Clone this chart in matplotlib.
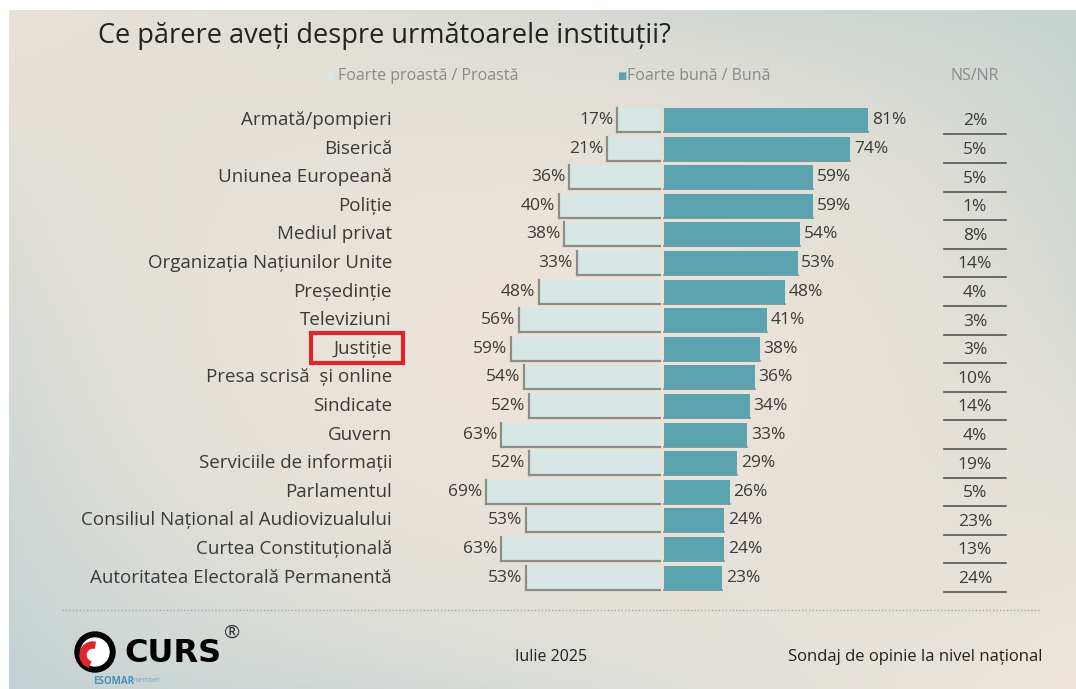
import matplotlib.pyplot as plt
import numpy as np
from matplotlib.patches import Rectangle, Circle, Wedge

# data
institutii = ["Armată/pompieri", "Biserică", "Uniunea Europeană", "Poliție", "Mediul privat",
              "Organizația Națiunilor Unite", "Președinție", "Televiziuni", "Justiție",
              "Presa scrisă  și online", "Sindicate", "Guvern", "Serviciile de informații",
              "Parlamentul", "Consiliul Național al Audiovizualului", "Curtea Constituțională",
              "Autoritatea Electorală Permanentă"]
proasta = [17, 21, 36, 40, 38, 33, 48, 56, 59, 54, 52, 63, 52, 69, 53, 63, 53]
buna = [81, 74, 59, 59, 54, 53, 48, 41, 38, 36, 34, 33, 29, 26, 24, 24, 23]
nsnr = [2, 5, 5, 1, 8, 14, 4, 3, 3, 10, 14, 4, 19, 5, 23, 13, 24]
evidentiat = "Justiție"

W, H = 1076, 689
LIGHT = "#d6e7e5"
DARK = "#5ba3ae"
TXT = "#3a3a3a"
FONT = ["Open Sans", "DejaVu Sans"]
plt.rcParams["font.family"] = FONT

fig = plt.figure(figsize=(W / 100, H / 100), dpi=100)
fig.patch.set_facecolor("white")

# fundal gradient
bg = fig.add_axes([9 / W, 0, 1 - 9 / W, 1 - 10 / H])
tl = np.array([233, 226, 216]) / 255
tr = np.array([198, 210, 207]) / 255
bl = np.array([196, 210, 211]) / 255
br = np.array([238, 230, 220]) / 255
mid = np.array([236, 228, 218]) / 255
u = np.linspace(0, 1, 200)[None, :, None]
v = np.linspace(0, 1, 140)[:, None, None]
img = (1 - u) * (1 - v) * tl + u * (1 - v) * tr + (1 - u) * v * bl + u * v * br
w = (np.sin(np.pi * u) * np.sin(np.pi * v)) ** 0.7
img = img * (1 - w) + mid * w
bg.imshow(np.clip(img, 0, 1), aspect="auto", extent=[0, 1, 1, 0])
bg.axis("off")

# axa principala: 0% la x=662 px, 2.52 px / %
cx, ppu = 662, 2.52
y0, dy = 120, 28.6
ax = fig.add_axes([0, 0, 1, 1])
ax.patch.set_alpha(0)
ax.set_xlim(-cx / ppu, (W - cx) / ppu)
ax.set_ylim((H - y0) / dy, -y0 / dy)
ax.axis("off")

ys = np.arange(len(institutii))
gap = 0.8
hb = 0.84
ax.barh(ys, [-p for p in proasta], left=-gap, height=hb, color=LIGHT, zorder=3)
ax.barh(ys, buna, left=gap, height=hb, color=DARK, zorder=3)

for y, p, b, n, name in zip(ys, proasta, buna, nsnr, institutii):
    # umbra "L" la barele deschise
    xl = -gap - p
    ax.plot([xl, xl], [y - hb / 2, y + hb / 2], color="#8d8d88", lw=1.6, zorder=4)
    ax.plot([xl, -gap], [y + hb / 2, y + hb / 2], color="#8d8d88", lw=1.6, zorder=4)
    ax.plot([gap, gap + b], [y + hb / 2, y + hb / 2], color="#6f8f94", lw=1.2, zorder=2)
    ax.text(xl - 1.5, y, f"{p}%", ha="right", va="center", fontsize=12.5, color=TXT)
    ax.text(gap + b + 1.5, y, f"{b}%", ha="left", va="center", fontsize=12.5, color=TXT)
    ax.text(-cx / ppu + 392 / ppu, y, name, ha="right", va="center", fontsize=13.5, color=TXT)
    nx = (975 - cx) / ppu
    ax.text(nx, y + 0.05, f"{n}%", ha="center", va="center", fontsize=12.5, color=TXT)
    ax.plot([(944 - cx) / ppu, (1006 - cx) / ppu], [y + 0.5, y + 0.5], color="#555", lw=1.2)

# chenar rosu
i = institutii.index(evidentiat)
ax.add_patch(Rectangle(((311 - cx) / ppu, i - 0.55), 92 / ppu, 1.05, fill=False,
                       edgecolor="#e0262b", lw=3, zorder=5))

# titlu si legenda
fig.text(98 / W, 1 - 36 / H, "Ce părere aveți despre următoarele instituții?",
         fontsize=19.5, color="#222", va="center", ha="left")
fig.text(518 / W, 1 - 76 / H, "Foarte proastă / Proastă", fontsize=11.5, color="#8a8a8a",
         ha="right", va="center")
fig.text(334 / W, 1 - 76 / H, "■", fontsize=7, color=LIGHT, ha="right", va="center")
fig.text(617 / W, 1 - 76 / H, "■", fontsize=7, color=DARK, ha="left", va="center")
fig.text(627 / W, 1 - 76 / H, "Foarte bună / Bună", fontsize=11.5, color="#8a8a8a",
         ha="left", va="center")
fig.text(975 / W, 1 - 76 / H, "NS/NR", fontsize=11.5, color="#8a8a8a", ha="center", va="center")

# linie punctata
ax.plot([(62 - cx) / ppu, (1040 - cx) / ppu], [(610 - y0) / dy] * 2, color="#9aa",
        lw=1, ls=(0, (1, 1.5)))

# subsol
fig.text(515 / W, 1 - 657 / H, "Iulie 2025", fontsize=11.5, color="#222", ha="left", va="center")
fig.text(1042 / W, 1 - 657 / H, "Sondaj de opinie la nivel național", fontsize=12,
         color="#222", ha="right", va="center")

# logo CURS
lg = fig.add_axes([60 / W, 0, 200 / W, 70 / H])
lg.set_xlim(0, 200)
lg.set_ylim(70, 0)
lg.set_aspect("equal")
lg.axis("off")
lg.add_patch(Circle((35, 33), 20, color="black"))
lg.add_patch(Circle((35, 33), 14, color="white"))
lg.add_patch(Wedge((33, 36), 13, 110, 280, width=6, color="#e0262b"))
lg.text(64, 34, "CURS", fontsize=23, fontweight="black", color="black", va="center",
        ha="left", family=["DejaVu Sans"])
lg.text(172, 14, "®", fontsize=14, color="#333", va="center", ha="center")
lg.text(33, 62, "ESOMAR", fontsize=7, color="#4a8fb5", fontweight="bold", va="center")
lg.text(72, 62, "member", fontsize=5, color="#7ab", va="center")

fig.savefig("out.png", dpi=100)
